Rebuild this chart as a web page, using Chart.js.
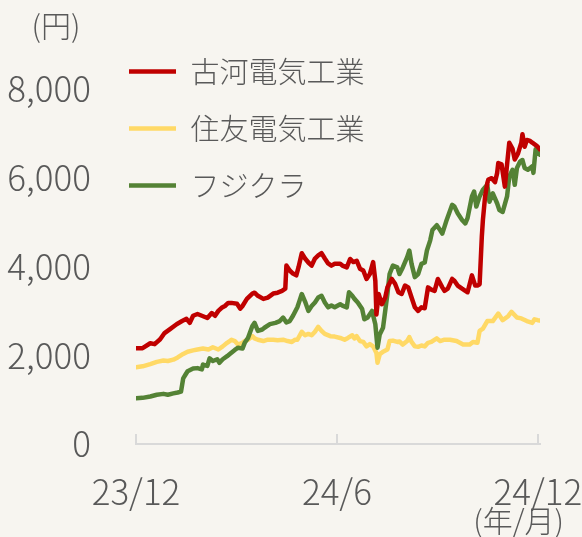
<!DOCTYPE html>
<html lang="ja">
<head>
<meta charset="utf-8">
<script src="https://cdn.jsdelivr.net/npm/chart.js@4"></script>
<style>
    html, body { margin: 0; padding: 0; background: #f7f5f0; }
    #wrap { position: relative; width: 582px; height: 537px; }
</style>
</head>
<body>
<div id="wrap"><canvas id="priceChart" width="582" height="537"></canvas></div>
<script>
// series names / colours
const seriesNames = ['古河電気工業', '住友電気工業', 'フジクラ'];
const seriesColors = ['#c00000', '#ffd966', '#548235'];

// axis ticks (x = days since 2023/12/1)
const tickDays = [0, 183, 366];
const tickLabels = ['23/12', '24/6', '24/12'];
const yTicks = [0, 2000, 4000, 6000, 8000];
const yUnit = '(円)';
const xUnit = '(年/月)';

// 古河電気工業
const furukawaDays = [0, 6, 13, 17, 22, 26, 31, 37, 42, 46, 49, 52, 56, 60, 65, 69, 72, 75, 78, 81, 84, 87, 92, 95, 97, 101, 106, 108, 111, 116, 120, 125, 129, 133, 136, 137, 140, 143, 146, 148, 151, 154, 157, 160, 163, 166, 169, 172, 175, 178, 181, 186, 188, 192, 195, 198, 201, 204, 207, 210, 213, 216, 218, 219, 221, 224, 227, 229, 233, 236, 239, 242, 245, 248, 251, 254, 257, 260, 263, 266, 269, 272, 275, 279, 281, 284, 288, 290, 293, 297, 300, 302, 306, 309, 311, 313, 315, 316, 318, 320, 321, 324, 327, 329, 330, 333, 336, 338, 340, 343, 345, 348, 351, 352, 354, 356, 359, 361, 365, 368];
const furukawaPrice = [2160, 2160, 2270, 2250, 2360, 2500, 2590, 2700, 2770, 2820, 2730, 2890, 2930, 2890, 2840, 2950, 2890, 3000, 3070, 3110, 3180, 3180, 3160, 3050, 3110, 3270, 3390, 3410, 3340, 3270, 3300, 3390, 3410, 3450, 3500, 4020, 3910, 3840, 3800, 3980, 4300, 4180, 4090, 4020, 4180, 4250, 4300, 4180, 4070, 4020, 4060, 4060, 4020, 3980, 4170, 4100, 4130, 3950, 3910, 3720, 3830, 4100, 3680, 2920, 3380, 3150, 3300, 3530, 3720, 3610, 3420, 3380, 3570, 3530, 3300, 3080, 3000, 3080, 3060, 3530, 3480, 3450, 3720, 3530, 3450, 3500, 3720, 3680, 3570, 3500, 3450, 3420, 3800, 3570, 3570, 3600, 4670, 5050, 5580, 5880, 5960, 5990, 5900, 6110, 6330, 6300, 5800, 6300, 6790, 6650, 6410, 6550, 6790, 6980, 6700, 6850, 6830, 6790, 6720, 6640];

// 住友電気工業
const sumitomoDays = [0, 6, 13, 19, 25, 29, 34, 38, 43, 47, 52, 56, 61, 66, 70, 75, 79, 83, 86, 87, 90, 93, 97, 99, 102, 106, 108, 111, 116, 120, 125, 129, 134, 138, 142, 145, 147, 151, 154, 157, 160, 163, 166, 169, 172, 177, 181, 186, 190, 193, 197, 199, 201, 204, 207, 210, 213, 216, 219, 220, 222, 225, 229, 231, 234, 238, 240, 243, 247, 249, 251, 254, 257, 260, 263, 266, 269, 274, 277, 281, 286, 292, 298, 304, 307, 311, 313, 316, 320, 325, 330, 334, 339, 342, 347, 351, 356, 361, 363, 366, 368];
const sumitomoPrice = [1730, 1750, 1800, 1850, 1880, 1870, 1900, 1950, 2030, 2080, 2110, 2130, 2150, 2130, 2180, 2130, 2200, 2280, 2330, 2350, 2320, 2240, 2280, 2320, 2350, 2430, 2380, 2350, 2320, 2350, 2350, 2340, 2350, 2320, 2300, 2350, 2350, 2530, 2450, 2480, 2450, 2530, 2640, 2550, 2480, 2430, 2420, 2390, 2350, 2390, 2450, 2380, 2430, 2320, 2300, 2200, 2250, 2200, 2050, 1830, 2020, 2080, 2130, 2320, 2330, 2300, 2310, 2240, 2320, 2410, 2300, 2200, 2190, 2220, 2200, 2280, 2300, 2380, 2320, 2350, 2350, 2320, 2240, 2240, 2300, 2280, 2550, 2600, 2770, 2770, 2940, 2790, 2880, 2980, 2850, 2830, 2770, 2730, 2810, 2790, 2780];

// フジクラ
const fujikuraDays = [0, 6, 13, 19, 25, 29, 34, 38, 41, 43, 45, 47, 52, 56, 60, 61, 65, 67, 70, 74, 76, 79, 83, 86, 90, 93, 97, 99, 102, 106, 108, 111, 115, 117, 122, 127, 131, 134, 137, 140, 143, 147, 149, 151, 154, 157, 160, 163, 166, 169, 172, 175, 178, 181, 186, 188, 192, 194, 197, 199, 202, 206, 208, 211, 215, 218, 220, 222, 225, 227, 229, 231, 234, 238, 240, 243, 247, 249, 251, 254, 257, 260, 263, 265, 268, 270, 274, 277, 279, 283, 288, 290, 293, 297, 300, 302, 306, 308, 310, 313, 316, 320, 322, 325, 329, 331, 334, 338, 340, 343, 345, 347, 350, 352, 354, 357, 361, 362, 364, 366, 368];
const fujikuraPrice = [1030, 1040, 1070, 1110, 1130, 1110, 1140, 1160, 1180, 1480, 1560, 1640, 1700, 1710, 1680, 1790, 1760, 1930, 1870, 1910, 1830, 1910, 1980, 2040, 2120, 2170, 2150, 2280, 2390, 2660, 2730, 2550, 2580, 2620, 2700, 2730, 2770, 2850, 2740, 2770, 2890, 3080, 3230, 3380, 3210, 3000, 3110, 3190, 3300, 3340, 3190, 3080, 3120, 3080, 3150, 3120, 3080, 3420, 3340, 3270, 3190, 3040, 2810, 2850, 3000, 2700, 2170, 2470, 2620, 3000, 3380, 3830, 4020, 3980, 3830, 3980, 4210, 4360, 4060, 3760, 3830, 4060, 4090, 4360, 4590, 4820, 4930, 4820, 4740, 5050, 5390, 5350, 5200, 5050, 4970, 5090, 5580, 5690, 5350, 5580, 5730, 5840, 5460, 5650, 5420, 5270, 5230, 5580, 6030, 6180, 5840, 6220, 6370, 6400, 6220, 6180, 6260, 6110, 6640, 6560, 6520];

const FONT = "'Noto Sans CJK JP', 'Noto Sans', sans-serif";
const TEXT = '#595959';
const AXIS = '#d9d9d9';

function toPoints(days, price) {
    return days.map((d, i) => ({ x: d, y: price[i] }));
}

const seriesData = [
    toPoints(furukawaDays, furukawaPrice),
    toPoints(sumitomoDays, sumitomoPrice),
    toPoints(fujikuraDays, fujikuraPrice)
];
// red on top, then green, yellow at the back
const drawOrder = [0, 2, 1];

// small tick marks up from the x axis + unit labels
const axisDecor = {
    id: 'axisDecor',
    beforeDatasetsDraw(chart) {
        const { ctx, chartArea, scales } = chart;
        ctx.save();
        ctx.strokeStyle = AXIS;
        ctx.lineWidth = 2;
        scales.x.ticks.forEach(t => {
            const px = Math.round(scales.x.getPixelForValue(t.value));
            ctx.beginPath();
            ctx.moveTo(px, chartArea.bottom);
            ctx.lineTo(px, chartArea.bottom - 10);
            ctx.stroke();
        });
        ctx.restore();
    },
    afterDraw(chart) {
        const { ctx } = chart;
        ctx.save();
        ctx.fillStyle = TEXT;
        ctx.font = `300 30px ${FONT}`;
        ctx.textBaseline = 'middle';
        ctx.textAlign = 'center';
        ctx.fillText(yUnit, 56, 26);
        ctx.textAlign = 'right';
        ctx.fillText(xUnit, 564, 521);
        ctx.restore();
    }
};

// move the legend to the upper left corner
const legendSpot = {
    id: 'legendSpot',
    afterLayout(chart) {
        chart.legend.left = 101;
        chart.legend.top = 29;
    }
};

new Chart(document.getElementById('priceChart'), {
    type: 'line',
    data: {
        datasets: seriesNames.map((name, i) => ({
            label: name,
            data: seriesData[i],
            borderColor: seriesColors[i],
            backgroundColor: seriesColors[i],
            borderWidth: 4.5,
            borderCapStyle: 'round',
            borderJoinStyle: 'round',
            pointRadius: 0,
            tension: 0,
            order: drawOrder[i]
        }))
    },
    options: {
        responsive: false,
        animation: false,
        events: [],
        layout: { padding: { top: 89, right: 42, bottom: 0, left: 0 } },
        plugins: {
            tooltip: { enabled: false },
            legend: {
                position: 'chartArea',
                align: 'start',
                labels: {
                    usePointStyle: true,
                    pointStyle: 'line',
                    pointStyleWidth: 47,
                    padding: 28,
                    color: TEXT,
                    font: { family: FONT, size: 29, weight: 300 },
                    sort: (a, b) => a.datasetIndex - b.datasetIndex
                }
            }
        },
        scales: {
            x: {
                type: 'linear',
                min: 0,
                max: 368,
                afterBuildTicks: s => { s.ticks = tickDays.map(v => ({ value: v })); },
                afterFit: s => { s.height = 93; s.paddingLeft = 0; s.paddingRight = 0; },
                ticks: {
                    callback: v => tickLabels[tickDays.indexOf(v)],
                    autoSkip: false,
                    maxRotation: 0,
                    padding: 27,
                    color: TEXT,
                    font: { family: FONT, size: 35, weight: 300 }
                },
                grid: { display: false, drawTicks: false },
                border: { display: true, color: AXIS, width: 2 }
            },
            y: {
                min: 0,
                max: 8000,
                afterBuildTicks: s => { s.ticks = yTicks.map(v => ({ value: v })); },
                afterFit: s => { s.width = 136; s.paddingTop = 0; s.paddingBottom = 0; },
                ticks: {
                    callback: v => v.toLocaleString('en-US'),
                    padding: 45,
                    color: TEXT,
                    font: { family: FONT, size: 35, weight: 300 }
                },
                grid: { display: false, drawTicks: false },
                border: { display: false }
            }
        }
    },
    plugins: [axisDecor, legendSpot]
});
</script>
</body>
</html>
